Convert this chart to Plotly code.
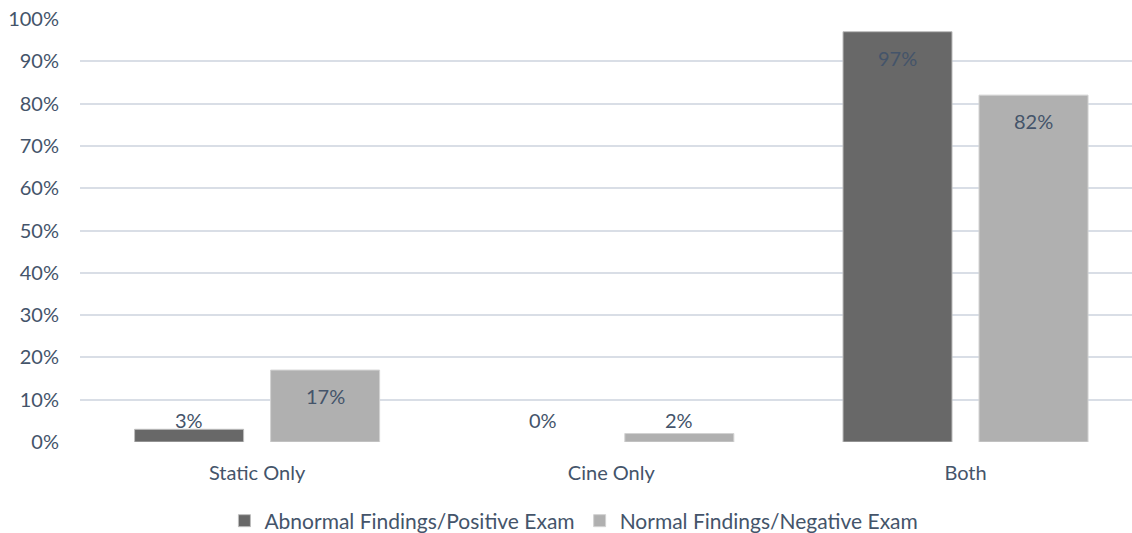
import plotly.graph_objects as go

categories = ["Static Only", "Cine Only", "Both"]
abnormal = [0.03, 0.00, 0.97]
normal = [0.17, 0.02, 0.82]
series_names = ["Abnormal Findings/Positive Exam", "Normal Findings/Negative Exam"]
tick_vals = [0, 0.1, 0.2, 0.3, 0.4, 0.5, 0.6, 0.7, 0.8, 0.9, 1.0]
tick_text = ["0%", "10%", "20%", "30%", "40%", "50%", "60%", "70%", "80%", "90%", "100%"]

FONT = "Lato"
TXT = "#44546A"


def edge_widths(vals):
    return [0 if v == 0 else 1 for v in vals]


fig = go.Figure()
fig.add_trace(go.Bar(
    x=categories, y=abnormal, name=series_names[0], offsetgroup="a",
    marker=dict(color="#686868", line=dict(color="#BDBDBD", width=edge_widths(abnormal))),
))
fig.add_trace(go.Bar(
    x=categories, y=normal, name=series_names[1], offsetgroup="b",
    marker=dict(color="#B0B0B0", line=dict(color="#D2D2D2", width=edge_widths(normal))),
))

# data labels
annotations = []
for vals, off in [(abnormal, -0.5), (normal, 0.5)]:
    for i, v in enumerate(vals):
        big = v >= 0.1
        annotations.append(dict(
            x=i, y=v if big else 0, xref="x", yref="y",
            text=f"{round(v*100)}%", showarrow=False,
            xshift=off * 136,
            yshift=-26 if big else 22,
            font=dict(family=FONT, size=20, color=TXT),
        ))

fig.update_layout(
    width=1132, height=533, autosize=False,
    margin=dict(l=80, r=0, t=19, b=91, autoexpand=False),
    paper_bgcolor="white", plot_bgcolor="white",
    barmode="group", bargap=0.232, bargroupgap=0.1985,
    font=dict(family=FONT, size=20, color=TXT),
    showlegend=True,
    legend=dict(orientation="h", xref="container", yref="container",
                x=0.507, xanchor="center", y=0.0225, yanchor="middle",
                bgcolor="rgba(0,0,0,0)",
                font=dict(family=FONT, size=21, color=TXT),
                itemwidth=30, tracegroupgap=0),
    annotations=annotations,
)
fig.update_xaxes(type="category", range=[-0.5, 2.47], showgrid=False, showline=False,
                 zeroline=False, ticks="", ticklabelstandoff=17, automargin=False,
                 tickfont=dict(family=FONT, size=20, color=TXT))
fig.update_yaxes(range=[0, 1.0], tickvals=tick_vals, ticktext=tick_text,
                 showgrid=True, gridcolor="#D9DEE6", gridwidth=1.5, zeroline=False,
                 showline=False, ticks="", ticklabelstandoff=20, automargin=False,
                 tickfont=dict(family=FONT, size=20, color=TXT))

fig.write_html("out.html")
